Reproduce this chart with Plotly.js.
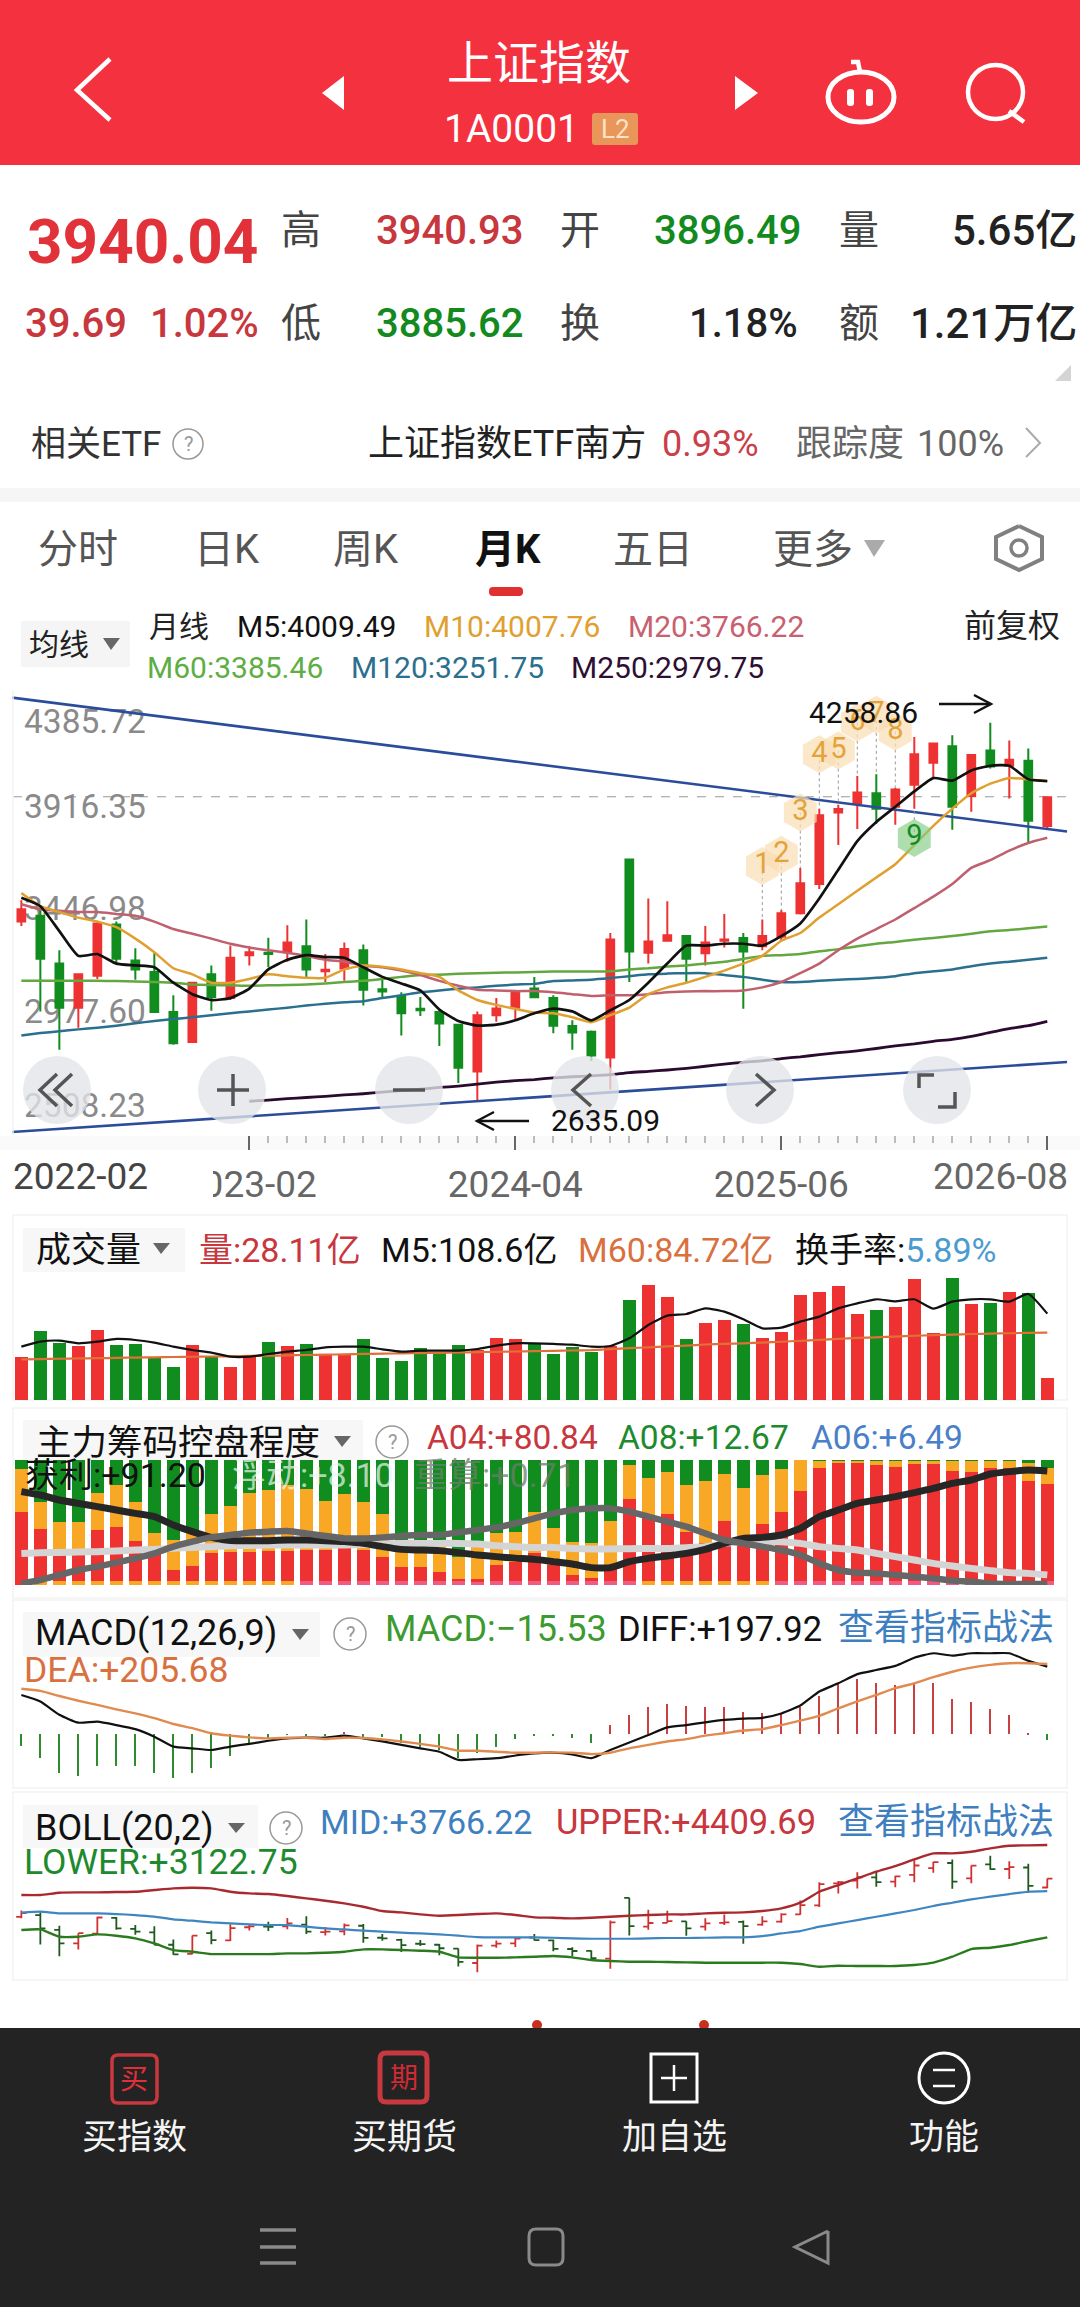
<!DOCTYPE html>
<html>
<head>
<meta charset="utf-8">
<script src="https://cdn.plot.ly/plotly-3.0.1.min.js"></script>
<style>html,body{margin:0;padding:0;background:#fff}</style>
</head>
<body>
<div id="chart" style="width:1080px;height:2307px"></div>
<script>
// monthly candles, index 0 = 2022-02
var openPx = [3407,3432,3227,3038,3175,3394,3240,3191,3019,2891,3181,3079,3263,3273,3276,3301,3194,3206,3284,3117,3088,3033,3019,2965,2765,3006,3038,3120,
  3079,2960,2935,2825,3673,3273,3325,3345,3271,3325,3337,3301,3342,3443,3568,3875,3913,3957,3899,3993,4088,4159,3945,4140,4075,4096,3817];
var closePx = [3460,3248,3038,3181,3399,3248,3202,3019,2886,3145,3084,3252,3276,3268,3317,3202,3201,3289,3115,3107,3014,3027,2970,2781,3006,3035,3104,3083,
  2961,2932,2833,3330,3279,3322,3348,3248,3317,3330,3279,3345,3443,3571,3863,3890,3960,3891,3973,4124,4170,3899,4121,4072,4101,3839,3940.04];
var highPx = [3498,3473,3284,3181,3411,3407,3293,3276,3091,3148,3219,3304,3301,3338,3391,3416,3268,3317,3309,3170,3104,3084,3030,2968,3022,3079,3112,3170,
  3091,2984,2940,3358,3673,3506,3494,3348,3388,3440,3358,3416,3457,3637,3891,3908,4031,4039,3981,4198,4175,4206,4124,4258.86,4183,4149,3941];
var lowPx = [3388,3022,2858,2952,3161,3227,3158,3019,2879,2888,3025,3071,3219,3211,3235,3170,3148,3153,3047,3076,2919,3002,2874,2715,2635.09,2978,2989,3079,
  2928,2858,2809,2686,3148,3227,3322,3145,3219,3296,3033,3284,3325,3437,3547,3735,3804,3826,3822,3891,4022,3801,3878,4063,3935,3744,3806];

var m5 = [3509,3473,3366,3260,3268,3227,3219,3211,3145,3096,3071,3079,3120,3202,3243,3263,3255,3252,3211,3170,3142,3112,3030,2981,2961,2965,2984,3014,
  3034,3022,2984,3027,3071,3145,3227,3304,3304,3312,3312,3304,3345,3399,3506,3629,3752,3834,3899,3965,4022,4011,4055,4075,4075,4017,4009.49];
var m10 = [3530,3473,3448,3424,3407,3383,3334,3276,3207,3181,3145,3145,3161,3181,3173,3166,3166,3202,3219,3214,3202,3186,3170,3112,3071,3050,3033,3017,
  3014,2997,2976,3006,3038,3096,3125,3145,3170,3197,3227,3260,3325,3358,3424,3481,3539,3596,3653,3735,3817,3891,3957,3998,4022,4017,4007.76];
var m20 = [3481,3460,3453,3448,3448,3440,3432,3407,3375,3355,3334,3312,3296,3284,3273,3260,3243,3235,3219,3211,3197,3178,3153,3132,3115,3112,3109,3109,
  3104,3096,3088,3091,3091,3096,3104,3107,3109,3109,3112,3125,3148,3186,3227,3284,3334,3375,3416,3465,3514,3568,3637,3670,3711,3744,3766.22];
var m60 = [3153,3153,3153,3153,3153,3152,3150,3148,3145,3137,3135,3134,3132,3134,3135,3137,3142,3148,3153,3161,3170,3178,3179,3183,3186,3188,3189,3191,
  3193,3193,3193,3194,3202,3207,3214,3219,3227,3235,3247,3260,3263,3268,3280,3289,3301,3312,3320,3329,3337,3345,3355,3366,3371,3378,3385.46];
var m120 = [2919,2929,2937,2945,2952,2961,2971,2981,2989,2997,3006,3014,3022,3030,3038,3047,3055,3061,3066,3079,3091,3104,3112,3119,3125,3132,3137,3140,
  3152,3155,3158,3165,3173,3181,3184,3186,3186,3178,3170,3158,3148,3148,3153,3158,3161,3166,3173,3186,3194,3202,3216,3227,3235,3243,3251.75];
var m250 = [null,null,null,null,null,null,null,null,null,null,null,null,2637,2642,2648,2653,2658,2664,2669,2676,2683,2689,2696,2702,2710,2719,2725,2730,
  2737,2742,2746,2751,2760,2765,2771,2778,2787,2796,2804,2810,2820,2827,2837,2845,2853,2863,2874,2883,2894,2902,2915,2932,2948,2961,2979.75];

var trendX = [-0.49,55.04];
var trendUpper = [4367,3793];
var trendLower = [2505,2805];
var lastPrice = 3942;

var tdIdx = [39,40,41,42,43,44,45,46,47];
var tdY = [3645,3694,3875,4124,4140,4260,4293,4222,3765];
var tdText = ['1','2','3','4','5','6','7','8','9'];

var vol = [53.7,86.8,72.1,67.9,87.7,69.2,70.5,52.4,41.5,68.8,53.7,41.5,54.5,72.6,67.9,70.5,56.6,57.5,76.3,52.8,49.5,65.0,59.6,69.2,62.9,78.4,76.3,71.3,
  57.9,66.3,60.4,67.9,125.8,144.3,129.2,76.3,96.5,100.7,95.6,77.6,85.1,132.1,135.9,143.4,107.8,113.2,116.6,151.8,83.9,153.1,120.8,122,135.5,134.2,28.11];
var volM5 = [67.1,73.4,74.7,71.3,73.4,76.8,75.5,72.1,67.1,62.9,59.6,54.5,54.5,57.9,60.8,62.9,66.3,67.1,67.1,63.7,60.8,62.1,62.1,62.1,64.2,68.4,71.3,71.3,
  70.5,69.6,67.1,67.9,77.6,94.4,106.1,108.2,115.3,111.1,101.5,90.2,91,98.6,104.9,115.3,121.6,126.7,124.1,126.7,114.9,123.7,126.7,126.7,123.7,133.4,108.6];
var volM60 = [51.2,51.4,51.9,52.3,52.6,53.0,53.4,53.7,54.1,54.4,54.7,55.0,55.4,55.7,56.1,56.6,57.0,57.5,57.9,58.3,58.7,59.0,59.4,59.8,60.2,60.6,61.0,61.4,
  61.9,62.3,62.8,64.0,65.2,66.3,67.5,68.4,69.8,70.7,71.3,72.3,73.3,74.5,75.6,76.9,78.1,78.9,79.7,80.8,81.5,82.3,83.0,83.5,84.0,84.5,84.72];

var chipRed = [58.7,44.5,25.3,25.3,44,46.1,35.5,25.3,12,15.2,25.9,26.7,26.7,27.2,27.2,28,28,29.3,28,22.1,14.7,14.7,10.1,4.8,4.5,16,18.7,25.3,
  16,8,5.3,14.7,68.5,54.7,56.5,42.7,33.3,51.2,37.3,48.8,58.7,75.2,93.3,97.3,97.3,96,94.1,96.8,96.8,91.2,90.1,93.3,93.3,83.2,80.84];
var chipOrange = [33.9,22.1,25.3,25.3,29.9,33.9,31.2,16,24,26.1,30.9,36.5,46.7,48.8,52.8,48.5,39.2,43.5,38.4,34.7,21.3,21.3,25.9,17.9,30.9,25.9,24,33.3,
  29.3,26.7,28,36.5,27.5,30.7,34.1,37.3,49.9,37.6,40,39.2,33.9,24.8,6.1,2.1,2.1,3.5,5.3,2.7,2.7,8.3,9.3,6.1,6.1,14.1,12.67];
var chipGreen = [7.4,33.4,49.4,49.4,26.1,20,33.3,58.7,64,58.7,43.2,36.8,26.6,24,20,23.5,32.8,27.2,33.6,43.2,64,64,64,77.3,64.6,58.1,57.3,41.4,
  54.7,65.3,66.7,48.8,4,14.6,9.4,20,16.8,11.2,22.7,12,7.4,0.3,0.6,0.6,0.6,0.5,0.6,0.5,0.5,0.5,0.6,0.6,0.6,2.7,6.49];
var chipProfit = [74.7,72,68,65.3,62.7,60,57.3,54.7,48,42.7,38.1,35.5,35.5,35.5,36,36,35.5,34.7,33.3,30.7,28.5,28,27.5,25.9,24,22.7,21.5,20.5,
  18.7,16.8,13.9,13.9,18.7,21.3,23.2,25.3,28.5,33.3,37.3,38.1,40,45.3,54.7,60,65.3,68,70.7,73.9,77.3,81.3,84,88.8,90.7,92,91.2];
var chipFloat = [25.3,25.9,26.1,26.4,26.7,27.2,28,28.5,29.3,30.1,30.7,31.5,31.7,32,32,32,32,32,32.5,32.8,33.3,33.3,33.3,33.3,32.8,31.5,30.7,30.1,
  30.1,29.3,28.8,28.8,29.1,29.3,29.3,29.9,30.7,33.3,34.7,34.7,34.7,33.3,30.7,29.3,28,25.3,22.7,20,17.3,15.2,13.3,11.5,9.9,9.3,8.1];
var chipRecalc = [1.3,4,8,12,14.7,17.9,21.3,25.3,30.7,34.7,38.1,40,41.9,42.7,43.2,41.3,39.2,37.3,37.3,38.1,39.2,40,40,42.1,44,46.1,49.3,53.3,
  57.3,60,61.3,61.3,58.7,54.7,50.7,46.7,41.3,36,33.3,30.7,28,24,17.3,12,9.9,9.3,8,6.7,5.3,3.5,2.7,1.3,0.8,0.8,0.71];

var dea = [133,127,112,98,86,73,61,47,30,18,3,-4,-9,-12,-10,-10,-14,-10,-11,-15,-21,-28,-36,-48,-48,-51,-54,-54,
  -53,-54,-58,-54,-41,-31,-21,-14,-4,3,11,15,27,40,54,76,96,115,135,149,167,183,195,203,208,208,205.68];
var diff = [115,96,57,34,37,27,15,-7,-36,-41,-46,-36,-28,-19,-12,-10,-10,-4,-12,-21,-31,-41,-51,-75,-73,-70,-62,-56,
  -54,-59,-70,-46,-24,-2,20,27,35,42,46,48,61,84,125,149,176,188,200,224,237,230,237,237,237,215,197.92];
var macdHist = [-33,-68,-114,-121,-94,-92,-94,-114,-129,-112,-98,-63,-31,-12,-2,-5,-3,8,-7,-9,-26,-36,-46,-70,-55,-38,-15,-3,
  -5,-11,-26,27,56,79,90,83,81,79,66,61,63,79,112,147,162,151,144,151,149,102,93,73,56,3,-15.53];

var bollUpper = [3712,3712,3745,3749,3749,3754,3758,3782,3805,3814,3805,3758,3735,3726,3698,3666,3633,3596,3549,3489,3470,3442,3424,3433,3447,3456,3433,3401,
  3396,3387,3396,3410,3424,3433,3442,3442,3456,3466,3470,3489,3526,3605,3758,3851,3944,4037,4116,4209,4293,4293,4316,4363,4400,4405,4409.69];
var bollMid = [3466,3480,3456,3456,3456,3447,3433,3410,3373,3354,3331,3317,3303,3294,3294,3271,3247,3233,3215,3201,3187,3177,3164,3145,3126,3122,3122,3122,
  3117,3108,3103,3103,3103,3108,3113,3113,3117,3122,3122,3140,3177,3210,3271,3317,3363,3410,3456,3503,3559,3605,3652,3689,3726,3758,3766.22];
var bollLower = [3224,3233,3131,3131,3164,3145,3108,3038,2945,2922,2889,2889,2889,2889,2899,2899,2908,2922,2955,2955,2945,2936,2922,2843,2838,2838,2843,2852,
  2862,2843,2806,2792,2783,2783,2778,2773,2769,2769,2769,2769,2769,2750,2713,2727,2722,2722,2722,2736,2769,2852,2959,2978,3015,3071,3122.75];

var yTickVals = [4264,3900,3465,3022,2620];
var yTickText = ['4385.72','3916.35','3446.98','2977.60','2508.23'];
var xTickVals = [12,26,40,54];
var xTickText = ['2023-02','2024-04','2025-06',''];

var W = 1080, H = 2307;
var FONT = 'Roboto, "Noto Sans CJK SC", sans-serif';
var RED = '#EE3232', GREEN = '#118C1E', ORANGE = '#F9A825', PINK = '#EE5C82';
var TXT_RED = '#C8363E', TXT_GREEN = '#1E8A2E', TXT_BLUE = '#3F7FBF', TXT_ORANGE = '#D9703F';
var FRAME = '#F3F3F3';

var idx = openPx.map(function (v, i) { return i; });

function dom(top, bottom) { return [1 - bottom / H, 1 - top / H]; }
function line(y, color, width, yaxis) {
  return {x: idx, y: y, type: 'scatter', mode: 'lines', yaxis: yaxis, hoverinfo: 'skip',
          line: {color: color, width: width, shape: 'spline', smoothing: 0.5}};
}
function bars(y, color, width, yaxis) {
  return {x: idx, y: y, type: 'bar', yaxis: yaxis, width: width, hoverinfo: 'skip',
          marker: {color: color, line: {width: 0}}};
}

// dotted stems between TD markers and the candles
var stemX = [], stemY = [];
tdIdx.forEach(function (k, n) {
  stemX.push(k, k, null);
  stemY.push(tdY[n], tdText[n] === '9' ? lowPx[k] : highPx[k], null);
});

var upDown = idx.map(function (i) { return closePx[i] >= openPx[i] ? RED : GREEN; });
var floorVals = idx.map(function (i) { return i === 0 ? 0 : 3; });
var floorColors = idx.map(function (i) { return (i < 15 || (i >= 33 && i < 40)) ? ORANGE : PINK; });
var redAboveFloor = idx.map(function (i) { return chipRed[i] - floorVals[i]; });
var histColors = macdHist.map(function (v) { return v < 0 ? '#2E8B2E' : '#C8403F'; });

var data = [
  {x: trendX, y: trendUpper, type: 'scatter', mode: 'lines', line: {color: '#2B4C9B', width: 2.6}, hoverinfo: 'skip'},
  {x: trendX, y: trendLower, type: 'scatter', mode: 'lines', line: {color: '#2B4C9B', width: 2.6}, hoverinfo: 'skip'},
  {x: idx, open: openPx, high: highPx, low: lowPx, close: closePx, type: 'candlestick', hoverinfo: 'skip',
   increasing: {line: {color: RED, width: 2}, fillcolor: RED},
   decreasing: {line: {color: GREEN, width: 2}, fillcolor: GREEN}},
  line(m250, '#2A0A2E', 2.8, 'y'),
  line(m120, '#2B6F8F', 2.5, 'y'),
  line(m60, '#62A83E', 2.5, 'y'),
  line(m20, '#C0606F', 2.5, 'y'),
  line(m10, '#E0A030', 2.5, 'y'),
  line(m5, '#111111', 2.7, 'y'),
  {x: stemX, y: stemY, type: 'scatter', mode: 'lines', connectgaps: false, hoverinfo: 'skip',
   line: {color: '#999999', width: 1, dash: 'dot'}},
  {x: tdIdx, y: tdY, text: tdText, type: 'scatter', mode: 'markers+text', textposition: 'middle center', hoverinfo: 'skip',
   textfont: {family: FONT, size: 29, color: tdText.map(function (t) { return t === '9' ? '#148A24' : '#E3A33A'; })},
   marker: {symbol: 'hexagon', size: 38, line: {width: 0},
            color: tdText.map(function (t) { return t === '9' ? 'rgba(130,205,130,0.65)' : 'rgba(250,222,180,0.72)'; })}},

  bars(vol, upDown, 0.67, 'y2'),
  line(volM60, '#E0703A', 2.2, 'y2'),
  line(volM5, '#111111', 2.2, 'y2'),

  bars(floorVals, floorColors, 0.67, 'y3'),
  bars(redAboveFloor, RED, 0.67, 'y3'),
  bars(chipOrange, ORANGE, 0.67, 'y3'),
  bars(chipGreen, GREEN, 0.67, 'y3'),
  line(chipFloat, '#D4D4D4', 7, 'y3'),
  line(chipProfit, '#262626', 7, 'y3'),
  line(chipRecalc, '#666666', 6.5, 'y3'),

  bars(macdHist, histColors, 0.12, 'y4'),
  line(diff, '#111111', 2.2, 'y4'),
  line(dea, '#E08A50', 2.4, 'y4'),

  {x: idx, open: openPx, high: highPx, low: lowPx, close: closePx, type: 'ohlc', yaxis: 'y5', tickwidth: 0.27, hoverinfo: 'skip',
   increasing: {line: {color: '#D03030', width: 1.8}},
   decreasing: {line: {color: '#1E5A1E', width: 1.8}}},
  line(bollUpper, '#A82A2E', 2.4, 'y5'),
  line(bollMid, '#3F86C0', 2.2, 'y5'),
  line(bollLower, '#2A7A1E', 2.4, 'y5')
];
data.forEach(function (t) { t.showlegend = false; t.xaxis = 'x'; });

// ---- helpers for the app chrome around the chart, all in page pixels ----
function X(px) { return px / W; }
function Y(py) { return 1 - py / H; }
function path(pts, closed) {
  return 'M' + pts.map(function (p) { return X(p[0]) + ',' + Y(p[1]); }).join('L') + (closed ? 'Z' : '');
}
function rect(x0, y0, x1, y1, fill, stroke, lw, layer) {
  return {type: 'rect', xref: 'paper', yref: 'paper', x0: X(x0), x1: X(x1), y0: Y(y0), y1: Y(y1),
          fillcolor: fill || 'rgba(0,0,0,0)', line: {color: stroke || 'rgba(0,0,0,0)', width: lw || 0}, layer: layer || 'above'};
}
function rrect(x0, y0, x1, y1, r, fill, stroke, lw) {
  function p(x, y) { return X(x) + ',' + Y(y); }
  var d = 'M' + p(x0 + r, y0) + 'L' + p(x1 - r, y0) + 'Q' + p(x1, y0) + ' ' + p(x1, y0 + r) +
          'L' + p(x1, y1 - r) + 'Q' + p(x1, y1) + ' ' + p(x1 - r, y1) +
          'L' + p(x0 + r, y1) + 'Q' + p(x0, y1) + ' ' + p(x0, y1 - r) +
          'L' + p(x0, y0 + r) + 'Q' + p(x0, y0) + ' ' + p(x0 + r, y0) + 'Z';
  return {type: 'path', xref: 'paper', yref: 'paper', path: d, fillcolor: fill || 'rgba(0,0,0,0)',
          line: {color: stroke || 'rgba(0,0,0,0)', width: lw || 0}, layer: 'above'};
}
function circ(cx, cy, r, fill, stroke, lw) {
  return {type: 'circle', xref: 'paper', yref: 'paper', x0: X(cx - r), x1: X(cx + r), y0: Y(cy - r), y1: Y(cy + r),
          fillcolor: fill || 'rgba(0,0,0,0)', line: {color: stroke || 'rgba(0,0,0,0)', width: lw || 0}, layer: 'above'};
}
function ell(x0, y0, x1, y1, stroke, lw) {
  return {type: 'circle', xref: 'paper', yref: 'paper', x0: X(x0), x1: X(x1), y0: Y(y0), y1: Y(y1),
          line: {color: stroke, width: lw}, layer: 'above'};
}
function stroke(pts, color, lw) {
  return {type: 'path', xref: 'paper', yref: 'paper', path: path(pts), line: {color: color, width: lw}, layer: 'above'};
}
function tri(pts, fill) {
  return {type: 'path', xref: 'paper', yref: 'paper', path: path(pts, true), fillcolor: fill, line: {width: 0}, layer: 'above'};
}
function txt(text, x, y, size, color, anchor, weight) {
  return {text: text, xref: 'paper', yref: 'paper', x: X(x), y: Y(y), xanchor: anchor || 'left', yanchor: 'middle',
          showarrow: false, borderpad: 0, font: {family: FONT, size: size, color: color, weight: weight || 400}};
}
function help(cx, cy) { return circ(cx, cy, 16, null, '#999999', 1.5); }

var shapes = [
  // header
  rect(0, 0, 1080, 165, '#F4313F'),
  stroke([[110, 59], [77, 90], [110, 120]], '#FFFFFF', 4.5),
  tri([[344, 76], [322, 93], [344, 110]], '#FFFFFF'),
  tri([[735, 76], [758, 93], [735, 110]], '#FFFFFF'),
  rrect(592, 113, 638, 145, 3, '#E8965A'),
  ell(828, 72, 894, 122, '#FFFFFF', 5),
  stroke([[851, 62], [858, 62], [860, 72]], '#FFFFFF', 4.5),
  rrect(847, 89, 854, 106, 3, '#FFFFFF'),
  rrect(866, 89, 873, 106, 3, '#FFFFFF'),
  ell(968, 65, 1023, 119, '#FFFFFF', 4.5),
  stroke([[1009, 111], [1024, 122]], '#FFFFFF', 4.5),
  tri([[1071, 365], [1071, 381], [1055, 381]], '#D4D4D4'),
  circ(188, 444, 15, null, '#999999', 1.5),
  stroke([[1026, 428], [1040, 443], [1026, 457]], '#AAAAAA', 2),
  rect(0, 488, 1080, 502, '#F6F6F6'),
  // tabs
  tri([[864, 540], [885, 540], [874, 557]], '#AAAAAA'),
  stroke([[1019, 526], [1042, 537], [1042, 559], [1019, 570], [996, 559], [996, 537], [1019, 526]], '#808080', 4),
  circ(1019, 548, 8, null, '#808080', 3.5),
  rrect(489, 587, 523, 596, 4, '#E03030'),
  // legend boxes
  rect(21, 621, 130, 667, '#F5F5F5', null, 0, 'below'),
  tri([[103, 638], [120, 638], [111, 650]], '#666666'),
  rect(23, 1228, 185, 1272, '#F7F7F7', null, 0, 'below'),
  tri([[153, 1243], [170, 1243], [161, 1254]], '#666666'),
  rect(23, 1420, 363, 1460, '#F7F7F7', null, 0, 'below'),
  tri([[334, 1436], [351, 1436], [342, 1447]], '#666666'),
  help(392, 1442),
  rect(23, 1612, 320, 1657, '#F7F7F7', null, 0, 'below'),
  tri([[292, 1629], [309, 1629], [300, 1640]], '#666666'),
  help(350, 1634),
  rect(23, 1805, 258, 1848, '#F7F7F7', null, 0, 'below'),
  tri([[228, 1823], [245, 1823], [236, 1833]], '#666666'),
  help(286, 1828),
  // panel frames
  stroke([[13, 690], [13, 1135]], FRAME, 1.5),
  rect(0, 1136, 1080, 1150, '#FAFAFA', null, 0, 'below'),
  rect(13, 1215, 1067, 1400, null, FRAME, 1.5, 'below'),
  rect(13, 1408, 1067, 1598, null, FRAME, 1.5, 'below'),
  rect(13, 1600, 1067, 1788, null, FRAME, 1.5, 'below'),
  rect(13, 1792, 1067, 1980, null, FRAME, 1.5, 'below'),
  // last price dashes
  {type: 'line', xref: 'paper', yref: 'y', x0: X(13), x1: X(1067), y0: lastPrice, y1: lastPrice,
   line: {color: '#999999', width: 1.2, dash: 'dash'}, layer: 'below'},
  // high / low arrows
  stroke([[939, 704], [991, 704]], '#111111', 2.4),
  stroke([[974, 695], [991, 704], [974, 713]], '#111111', 2.4),
  stroke([[529, 1121], [477, 1121]], '#111111', 2.4),
  stroke([[494, 1112], [477, 1121], [494, 1130]], '#111111', 2.4),
  // floating buttons on the chart
  circ(57, 1090, 34, 'rgba(226,228,232,0.78)'),
  circ(232, 1090, 34, 'rgba(226,228,232,0.78)'),
  circ(409, 1090, 34, 'rgba(226,228,232,0.78)'),
  circ(585, 1090, 34, 'rgba(226,228,232,0.78)'),
  circ(760, 1090, 34, 'rgba(226,228,232,0.78)'),
  circ(937, 1090, 34, 'rgba(226,228,232,0.78)'),
  stroke([[57, 1074], [40, 1090], [57, 1106]], '#555555', 3.5),
  stroke([[72, 1074], [55, 1090], [72, 1106]], '#555555', 3.5),
  stroke([[217, 1090], [249, 1090]], '#555555', 3.5),
  stroke([[233, 1074], [233, 1106]], '#555555', 3.5),
  stroke([[393, 1090], [425, 1090]], '#555555', 3.5),
  stroke([[591, 1074], [573, 1090], [591, 1106]], '#555555', 3.5),
  stroke([[756, 1074], [774, 1090], [756, 1106]], '#555555', 3.5),
  stroke([[934, 1075], [919, 1075], [919, 1088]], '#555555', 3.5),
  stroke([[938, 1107], [955, 1107], [955, 1092]], '#555555', 3.5),
  // hides the start of the 2023-02 tick label, faded in the app
  rect(150, 1150, 213, 1198, '#FFFFFF'),
  // bottom bar
  circ(537, 2025, 5, '#C8301E'),
  circ(704, 2025, 5, '#C8301E'),
  rect(0, 2028, 1080, 2307, '#232323'),
  rrect(112, 2055, 157, 2103, 6, 'rgba(0,0,0,0)', '#C8383F', 3.5),
  rrect(380, 2053, 427, 2102, 6, 'rgba(0,0,0,0)', '#C8383F', 5),
  rect(651, 2054, 697, 2102, 'rgba(0,0,0,0)', '#FFFFFF', 3),
  stroke([[661, 2078], [687, 2078]], '#FFFFFF', 2.5),
  stroke([[674, 2065], [674, 2091]], '#FFFFFF', 2.5),
  circ(944, 2078, 25, null, '#FFFFFF', 3),
  stroke([[933, 2070], [955, 2070]], '#FFFFFF', 2.5),
  stroke([[933, 2086], [955, 2086]], '#FFFFFF', 2.5),
  stroke([[260, 2230], [296, 2230]], '#8A8A8A', 3.5),
  stroke([[260, 2247], [296, 2247]], '#8A8A8A', 3.5),
  stroke([[260, 2263], [296, 2263]], '#8A8A8A', 3.5),
  rrect(529, 2229, 563, 2265, 7, null, '#8A8A8A', 3),
  stroke([[828, 2231], [795, 2247], [828, 2263], [828, 2231]], '#8A8A8A', 3)
];

var annotations = [
  txt('上证指数', 539, 63, 46, '#FFFFFF', 'center'),
  txt('1A0001', 511, 129, 39, '#FFFFFF', 'center'),
  txt('L2', 615, 129, 26, '#FBE2C6', 'center'),

  txt('3940.04', 26, 242, 62, '#E03238', 'left', 700),
  txt('高', 301, 230, 40, '#444444', 'center'),
  txt('3940.93', 375, 230, 40, TXT_RED, 'left', 500),
  txt('开', 580, 230, 40, '#444444', 'center'),
  txt('3896.49', 653, 230, 40, '#128A20', 'left', 500),
  txt('量', 859, 230, 40, '#444444', 'center'),
  txt('5.65亿', 1078, 230, 42, '#222222', 'right', 500),
  txt('39.69', 24, 323, 40, TXT_RED, 'left', 500),
  txt('1.02%', 260, 323, 40, TXT_RED, 'right', 500),
  txt('低', 301, 323, 40, '#444444', 'center'),
  txt('3885.62', 375, 323, 40, '#128A20', 'left', 500),
  txt('换', 580, 323, 40, '#444444', 'center'),
  txt('1.18%', 799, 323, 40, '#222222', 'right', 500),
  txt('额', 859, 323, 40, '#444444', 'center'),
  txt('1.21万亿', 1078, 323, 42, '#222222', 'right', 500),

  txt('相关ETF', 30, 444, 35, '#333333'),
  txt('?', 188, 444, 20, '#999999', 'center'),
  txt('上证指数ETF南方', 367, 444, 36, '#222222'),
  txt('0.93%', 760, 444, 36, '#C8404A', 'right'),
  txt('跟踪度', 795, 444, 36, '#666666'),
  txt('100%', 1005, 444, 36, '#666666', 'right'),

  txt('分时', 78, 549, 40, '#555555', 'center'),
  txt('日K', 227, 549, 40, '#555555', 'center'),
  txt('周K', 366, 549, 40, '#555555', 'center'),
  txt('月K', 508, 549, 40, '#111111', 'center', 700),
  txt('五日', 653, 549, 40, '#555555', 'center'),
  txt('更多', 813, 549, 40, '#555555', 'center'),

  txt('均线', 59, 644, 30, '#222222', 'center'),
  txt('月线', 148, 626, 30, '#222222'),
  txt('M5:4009.49', 236, 626, 30, '#111111'),
  txt('M10:4007.76', 423, 626, 30, '#E0A030'),
  txt('M20:3766.22', 627, 626, 30, '#C8606F'),
  txt('前复权', 1012, 626, 32, '#222222', 'center'),
  txt('M60:3385.46', 146, 667, 30, '#5FAE45'),
  txt('M120:3251.75', 350, 667, 30, '#2B6F8F'),
  txt('M250:2979.75', 570, 667, 30, '#2E0F33'),

  txt('4258.86', 863, 712, 30, '#111111', 'center'),
  txt('2635.09', 605, 1120, 30, '#111111', 'center'),
  txt('2022-02', 12, 1176, 37, '#444444'),
  txt('2026-08', 1000, 1176, 37, '#666666', 'center'),

  txt('成交量', 88, 1250, 35, '#111111', 'center'),
  txt('量:28.11亿', 198, 1250, 34, TXT_RED),
  txt('M5:108.6亿', 380, 1250, 34, '#111111'),
  txt('M60:84.72亿', 577, 1250, 34, TXT_ORANGE),
  txt('换手率:<span style="color:#4A9BD0">5.89%</span>', 794, 1250, 34, '#111111'),

  txt('主力筹码控盘程度', 35, 1443, 35.5, '#111111'),
  txt('?', 392, 1442, 20, '#999999', 'center'),
  txt('A04:+80.84', 426, 1437, 33.5, TXT_RED),
  txt('A08:+12.67', 617, 1437, 33.5, TXT_GREEN),
  txt('A06:+6.49', 810, 1437, 33.5, '#4A80C8'),
  txt('获利:+91.20', 24, 1475, 34, '#111111'),
  txt('浮动:+8.10', 231, 1475, 34, 'rgba(236,244,236,0.72)'),
  txt('重算:+0.71', 413, 1475, 34, 'rgba(110,125,110,0.75)'),

  txt('MACD(12,26,9)', 34, 1633, 36, '#111111'),
  txt('?', 350, 1634, 20, '#999999', 'center'),
  txt('MACD:−15.53', 384, 1629, 36, '#3C9A2E'),
  txt('DIFF:+197.92', 617, 1629, 34.5, '#111111'),
  txt('查看指标战法', 1055, 1628, 36, TXT_BLUE, 'right'),
  txt('DEA:+205.68', 23, 1670, 35.5, TXT_ORANGE),

  txt('BOLL(20,2)', 34, 1828, 36, '#111111'),
  txt('?', 286, 1828, 20, '#999999', 'center'),
  txt('MID:+3766.22', 319, 1822, 34, TXT_BLUE),
  txt('UPPER:+4409.69', 555, 1822, 34.5, TXT_RED),
  txt('查看指标战法', 1055, 1822, 36, TXT_BLUE, 'right'),
  txt('LOWER:+3122.75', 23, 1862, 35.5, TXT_GREEN),

  txt('买', 134, 2079, 28, '#E0303A', 'center'),
  txt('期', 404, 2078, 28, '#D02A34', 'center'),
  txt('买指数', 134, 2137, 35, '#F4F4F4', 'center'),
  txt('买期货', 404, 2137, 35, '#F4F4F4', 'center'),
  txt('加自选', 674, 2137, 35, '#F4F4F4', 'center'),
  txt('功能', 944, 2137, 35, '#F4F4F4', 'center')
];

var minorTicks = idx.filter(function (i) { return i > 12 && xTickVals.indexOf(i) < 0; });

var hiddenY = {visible: false, anchor: 'x', showgrid: false, zeroline: false, fixedrange: true};
function panelY(top, bottom, range) {
  return Object.assign({}, hiddenY, {domain: dom(top, bottom), range: range});
}

var layout = {
  width: W, height: H,
  margin: {l: 0, r: 0, t: 0, b: 0},
  paper_bgcolor: '#FFFFFF', plot_bgcolor: 'rgba(0,0,0,0)',
  showlegend: false,
  barmode: 'stack', bargap: 0.33, boxgap: 0.42,
  font: {family: FONT},
  xaxis: {domain: [12 / W, 1068 / W], range: [-0.492, 55.09], anchor: 'y', type: 'linear',
          rangeslider: {visible: false}, showgrid: false, zeroline: false, showline: false, fixedrange: true,
          tickmode: 'array', tickvals: xTickVals, ticktext: xTickText,
          ticks: 'outside', ticklen: 14, tickwidth: 2, tickcolor: '#666666',
          tickfont: {family: FONT, size: 37, color: '#666666'}, ticklabelstandoff: 3,
          minor: {tickmode: 'array', tickvals: minorTicks, ticks: 'outside', ticklen: 7, tickwidth: 1.5, tickcolor: '#BBBBBB'}},
  yaxis: {domain: dom(690, 1135), range: [2492.3, 4399.6], anchor: 'x', showgrid: false, zeroline: false, showline: false, fixedrange: true,
          tickmode: 'array', tickvals: yTickVals, ticktext: yTickText, ticks: '',
          ticklabelposition: 'inside', ticklabelstandoff: 9, layer: 'below traces',
          tickfont: {family: FONT, size: 33.5, color: '#8A8A8A'}},
  yaxis2: panelY(1262, 1400, [0, 173.6]),
  yaxis3: panelY(1460, 1585, [0, 100]),
  yaxis4: panelY(1640, 1790, [-163, 275.8]),
  yaxis5: panelY(1835, 1985, [2458, 4549]),
  shapes: shapes,
  annotations: annotations
};

Plotly.newPlot('chart', data, layout, {displayModeBar: false, responsive: false});
</script>
</body>
</html>
